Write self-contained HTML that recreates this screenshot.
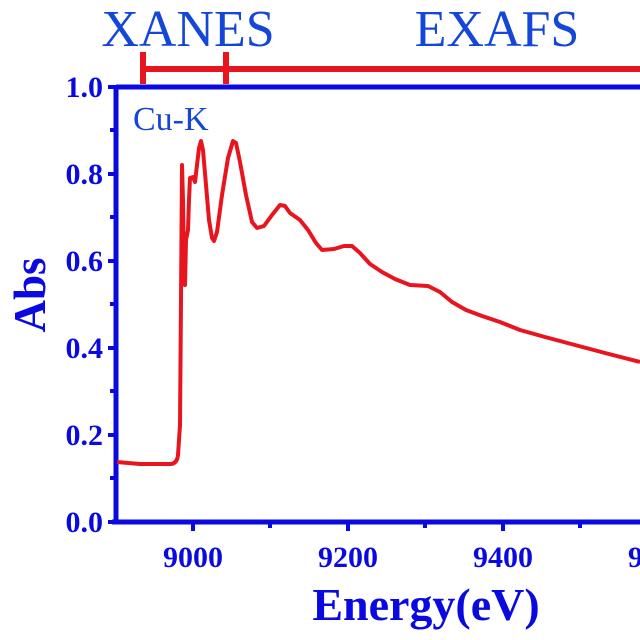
<!DOCTYPE html>
<html><head><style>html,body{margin:0;padding:0;background:#fff;width:640px;height:640px;overflow:hidden}</style></head>
<body>
<svg width="640" height="640" viewBox="0 0 640 640" xmlns="http://www.w3.org/2000/svg" font-family="Liberation Serif, serif">
<text x="188" y="46" font-size="52" fill="#1446d8" text-anchor="middle">XANES</text>
<text x="497" y="46" font-size="52" fill="#1446d8" text-anchor="middle">EXAFS</text>
<g stroke="#e8141e" stroke-width="6" fill="none">
<line x1="141" y1="69" x2="640" y2="69"/>
<line x1="143" y1="52" x2="143" y2="84"/>
<line x1="226" y1="52" x2="226" y2="84"/>
</g>
<g stroke="#0a0ae0" stroke-width="5" fill="none">
<line x1="116" y1="87" x2="640" y2="87"/>
<line x1="116" y1="85" x2="116" y2="524"/>
<line x1="112" y1="522" x2="640" y2="522"/>
</g>
<g stroke="#0a0ae0" stroke-width="4">
<line x1="108" y1="87" x2="116" y2="87"/><line x1="110" y1="130" x2="116" y2="130"/>
<line x1="108" y1="174" x2="116" y2="174"/><line x1="110" y1="217" x2="116" y2="217"/>
<line x1="108" y1="261" x2="116" y2="261"/><line x1="110" y1="304" x2="116" y2="304"/>
<line x1="108" y1="348" x2="116" y2="348"/><line x1="110" y1="391" x2="116" y2="391"/>
<line x1="108" y1="435" x2="116" y2="435"/><line x1="110" y1="478" x2="116" y2="478"/>
<line x1="108" y1="522" x2="116" y2="522"/>
<line x1="193" y1="522" x2="193" y2="531"/><line x1="270" y1="522" x2="270" y2="528"/>
<line x1="348" y1="522" x2="348" y2="531"/><line x1="425" y1="522" x2="425" y2="528"/>
<line x1="503" y1="522" x2="503" y2="531"/><line x1="580" y1="522" x2="580" y2="528"/>
</g>
<g font-size="30" font-weight="bold" fill="#0a0ae0" text-anchor="end">
<text x="103" y="97">1.0</text><text x="103" y="184">0.8</text><text x="103" y="271">0.6</text>
<text x="103" y="358">0.4</text><text x="103" y="445">0.2</text><text x="103" y="532">0.0</text>
</g>
<g font-size="30" font-weight="bold" fill="#0a0ae0" text-anchor="middle">
<text x="193" y="567">9000</text><text x="348" y="567">9200</text><text x="503" y="567">9400</text><text x="658" y="567">9600</text>
</g>
<text x="426" y="620" font-size="46" font-weight="bold" fill="#0a0ae0" text-anchor="middle">Energy(eV)</text>
<text transform="translate(45,295) rotate(-90)" font-size="45" font-weight="bold" fill="#0a0ae0" text-anchor="middle">Abs</text>
<text x="133" y="130" font-size="34" fill="#1446d8">Cu-K</text>
<path d="M117,462 L140,464 L170,464 Q177,464 178,455 L179,440 L180,425 L181,300 L182,165 L183,200 L184,270 L185,285 L186,240 L188,230 L189,200 L190,178 L193,177 L195,182 L197,165 L199,148 L201,141 L203,150 L206,185 L209,220 L212,238 L214,241 L217,232 L222,195 L228,158 L233,141 L236,143 L240,162 L246,195 L252,222 L257,228 L264,226 L272,215 L280,205 L285,206 L290,213 L300,220 L308,230 L316,243 L322,250 L334,249 L344,246 L352,246 L360,253 L370,264 L382,272 L395,279 L410,285 L428,286 L440,292 L452,302 L466,310 L482,316 L500,322 L520,330 L545,337 L575,345 L605,353 L640,362" stroke="#e8141e" stroke-width="4" fill="none" stroke-linejoin="round"/>
</svg>
</body></html>
